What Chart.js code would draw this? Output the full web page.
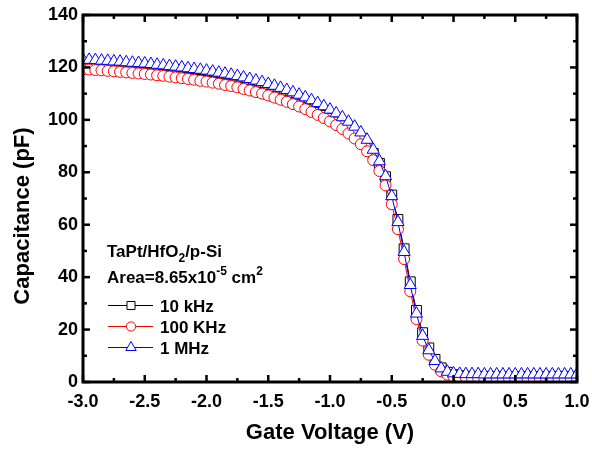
<!DOCTYPE html>
<html>
<head>
<meta charset="utf-8">
<script src="https://cdn.jsdelivr.net/npm/chart.js@4"></script>
<style>
  html, body { margin:0; padding:0; background:#fff; }
  #wrap { position:relative; width:592px; height:450px; }
</style>
</head>
<body>
<div id="wrap"><canvas id="cv" width="592" height="450"></canvas></div>
<script>
// gate voltage sweep (V)
const volts = [
  -3.00, -2.95, -2.90, -2.85, -2.80, -2.75, -2.70, -2.65, -2.60, -2.55,
  -2.50, -2.45, -2.40, -2.35, -2.30, -2.25, -2.20, -2.15, -2.10, -2.05,
  -2.00, -1.95, -1.90, -1.85, -1.80, -1.75, -1.70, -1.65, -1.60, -1.55,
  -1.50, -1.45, -1.40, -1.35, -1.30, -1.25, -1.20, -1.15, -1.10, -1.05,
  -1.00, -0.95, -0.90, -0.85, -0.80, -0.75, -0.70, -0.65, -0.60, -0.55,
  -0.50, -0.45, -0.40, -0.35, -0.30, -0.25, -0.20, -0.15, -0.10, -0.05,
   0.00,  0.05,  0.10,  0.15,  0.20,  0.25,  0.30,  0.35,  0.40,  0.45,
   0.50,  0.55,  0.60,  0.65,  0.70,  0.75,  0.80,  0.85,  0.90,  0.95,
   1.00
];

// capacitance (pF) per frequency
const c10k = [
  119.8, 119.7, 119.5, 119.4, 119.2, 119.0, 118.8, 118.6, 118.4, 118.2,
  118.0, 117.8, 117.5, 117.3, 117.0, 116.7, 116.4, 116.1, 115.8, 115.4,
  115.1, 114.7, 114.3, 113.8, 113.4, 112.9, 112.3, 111.7, 111.1, 110.5,
  109.8, 109.0, 108.3, 107.5, 106.6, 105.8, 104.8, 103.8, 102.8, 101.7,
  100.5, 99.2, 97.8, 96.3, 94.6, 92.7, 90.3, 87.2, 83.4, 78.3,
  71.3, 62.0, 50.8, 38.2, 27.3, 18.8, 13.0, 8.6, 5.4, 3.7,
  2.8, 2.4, 2.2, 2.1, 2.0, 2.0, 2.0, 2.0, 2.0, 2.0,
  2.0, 2.0, 2.0, 2.0, 2.0, 2.0, 2.0, 2.0, 2.0, 2.0,
  2.0
];
const c100k = [
  119.3, 119.2, 119.0, 118.9, 118.7, 118.5, 118.3, 118.1, 117.9, 117.7,
  117.5, 117.3, 117.0, 116.8, 116.5, 116.2, 115.9, 115.6, 115.3, 114.9,
  114.6, 114.2, 113.8, 113.3, 112.9, 112.4, 111.8, 111.2, 110.6, 110.0,
  109.3, 108.5, 107.7, 106.9, 106.0, 105.1, 104.1, 103.0, 101.9, 100.7,
  99.4, 98.0, 96.5, 94.8, 92.9, 90.7, 88.0, 84.6, 80.5, 75.0,
  67.8, 58.3, 46.9, 34.6, 24.0, 15.8, 10.4, 6.6, 4.1, 2.8,
  2.1, 1.8, 1.6, 1.5, 1.4, 1.3, 1.3, 1.3, 1.2, 1.2,
  1.2, 1.2, 1.2, 1.2, 1.2, 1.2, 1.2, 1.2, 1.2, 1.2,
  1.2
];
const c1M = [
  123.0, 122.9, 122.8, 122.6, 122.5, 122.3, 122.2, 122.0, 121.8, 121.7,
  121.5, 121.3, 121.0, 120.8, 120.5, 120.3, 120.0, 119.7, 119.4, 119.1,
  118.8, 118.4, 118.0, 117.6, 117.2, 116.7, 116.2, 115.6, 115.0, 114.4,
  113.7, 113.0, 112.2, 111.4, 110.5, 109.6, 108.6, 107.5, 106.4, 105.2,
  103.9, 102.5, 101.0, 99.3, 97.4, 95.2, 92.4, 88.6, 84.2, 78.5,
  70.9, 61.0, 49.6, 37.0, 26.1, 17.6, 12.1, 8.0, 5.2, 3.9,
  3.3, 3.1, 3.0, 3.0, 3.0, 2.9, 2.9, 2.9, 2.9, 2.9,
  2.9, 2.9, 2.9, 2.9, 2.9, 2.9, 2.9, 2.9, 2.9, 2.9,
  2.9
];

const seriesNames = ['10 kHz', '100 KHz', '1 MHz'];
const xTicks = [-3.0, -2.5, -2.0, -1.5, -1.0, -0.5, 0.0, 0.5, 1.0];
const yTicks = [0, 20, 40, 60, 80, 100, 120, 140];

const FONT = '"Liberation Sans", Arial, sans-serif';

const styles = [
  { color: '#000000', shape: 'rect', r: 7, lr: 5.7, order: 3 },
  { color: '#ff0000', shape: 'circle', r: 5.5, lr: 4.6, order: 2 },
  { color: '#0000ff', shape: 'triangle', r: 7, lr: 6, order: 1 }
];
const values = [c10k, c100k, c1M];

const datasets = values.map((vals, k) => ({
  label: seriesNames[k],
  data: volts.map((v, i) => ({ x: v, y: vals[i] })),
  borderColor: styles[k].color,
  borderWidth: 1,
  backgroundColor: '#ffffff',
  pointStyle: styles[k].shape,
  pointRadius: styles[k].r,
  pointBorderWidth: 1,
  pointBorderColor: styles[k].color,
  pointBackgroundColor: '#ffffff',
  order: styles[k].order,
  tension: 0
}));

// draws a run of normal / sub / sup text pieces
function richText(ctx, parts, x, y) {
  parts.forEach(p => {
    ctx.font = p.s ? 'bold 12px ' + FONT : 'bold 17px ' + FONT;
    const dy = p.s === 'sub' ? 5 : p.s === 'sup' ? -8 : 0;
    ctx.fillText(p.t, x, y + dy);
    x += ctx.measureText(p.t).width;
  });
}

const framePlugin = {
  id: 'frame',
  afterDraw(chart) {
    const { ctx, chartArea: a, scales: { x, y } } = chart;
    ctx.save();
    ctx.strokeStyle = '#000';
    ctx.fillStyle = '#000';

    // inward ticks on all four sides
    const seg = (x1, y1, x2, y2) => { ctx.beginPath(); ctx.moveTo(x1, y1); ctx.lineTo(x2, y2); ctx.stroke(); };
    ctx.lineWidth = 2.5;
    xTicks.forEach((v, i) => {
      const px = x.getPixelForValue(v);
      seg(px, a.bottom, px, a.bottom - 7);
      seg(px, a.top, px, a.top + 7);
      if (i < xTicks.length - 1) {
        const mx = x.getPixelForValue((v + xTicks[i + 1]) / 2);
        seg(mx, a.bottom, mx, a.bottom - 4);
        seg(mx, a.top, mx, a.top + 4);
      }
    });
    yTicks.forEach((v, i) => {
      const py = y.getPixelForValue(v);
      seg(a.left, py, a.left + 7, py);
      seg(a.right, py, a.right - 7, py);
      if (i < yTicks.length - 1) {
        const my = y.getPixelForValue((v + yTicks[i + 1]) / 2);
        seg(a.left, my, a.left + 4, my);
        seg(a.right, my, a.right - 4, my);
      }
    });

    // frame
    ctx.lineWidth = 3;
    ctx.lineJoin = 'miter';
    ctx.strokeRect(a.left, a.top, a.right - a.left, a.bottom - a.top);

    // y axis title
    ctx.save();
    ctx.translate(29, 216);
    ctx.rotate(-Math.PI / 2);
    ctx.font = 'bold 22px ' + FONT;
    ctx.textAlign = 'center';
    ctx.textBaseline = 'alphabetic';
    ctx.fillText('Capacitance (pF)', 0, 0);
    ctx.restore();

    // sample annotation
    ctx.textAlign = 'left';
    ctx.textBaseline = 'alphabetic';
    richText(ctx, [{ t: 'TaPt/HfO' }, { t: '2', s: 'sub' }, { t: '/p-Si' }], 107, 257);
    richText(ctx, [{ t: 'Area=8.65x10' }, { t: '-5', s: 'sup' }, { t: ' cm' }, { t: '2', s: 'sup' }], 107, 283);

    // legend
    seriesNames.forEach((name, k) => {
      const ly = 305.5 + k * 21;
      ctx.strokeStyle = styles[k].color;
      ctx.lineWidth = 1;
      seg(108, ly, 153, ly);
      ctx.fillStyle = '#ffffff';
      Chart.helpers.drawPoint(ctx, { pointStyle: styles[k].shape, radius: styles[k].lr, rotation: 0, borderWidth: 1 }, 131, ly);
      ctx.fillStyle = '#000';
      ctx.font = 'bold 17px ' + FONT;
      ctx.fillText(name, 160, ly + 6);
    });
    ctx.restore();
  }
};

new Chart(document.getElementById('cv'), {
  type: 'line',
  data: { datasets },
  options: {
    responsive: false,
    animation: false,
    devicePixelRatio: 1,
    layout: { padding: { top: 15, right: 15, left: 0, bottom: 0 } },
    plugins: { legend: { display: false }, tooltip: { enabled: false } },
    scales: {
      x: {
        type: 'linear', min: -3, max: 1,
        grid: { display: false, drawTicks: false }, border: { display: false },
        afterBuildTicks: s => { s.ticks = xTicks.map(v => ({ value: v })); },
        afterFit: s => { s.height = 68; s.paddingLeft = 0; s.paddingRight = 0; },
        ticks: {
          padding: 9, color: '#000', autoSkip: false, maxRotation: 0,
          font: { family: FONT, size: 18, weight: 'bold' },
          callback: v => Number(v).toFixed(1)
        },
        title: {
          display: true, text: 'Gate Voltage (V)', color: '#000',
          font: { family: FONT, size: 22, weight: 'bold' },
          padding: { top: 0, bottom: 4 }
        }
      },
      y: {
        type: 'linear', min: 0, max: 140,
        grid: { display: false, drawTicks: false }, border: { display: false },
        afterBuildTicks: s => { s.ticks = yTicks.map(v => ({ value: v })); },
        afterFit: s => { s.width = 83; s.paddingTop = 0; s.paddingBottom = 0; },
        ticks: {
          padding: 5, color: '#000', autoSkip: false,
          font: { family: FONT, size: 18, weight: 'bold' }
        }
      }
    }
  },
  plugins: [framePlugin]
});
</script>
</body>
</html>
